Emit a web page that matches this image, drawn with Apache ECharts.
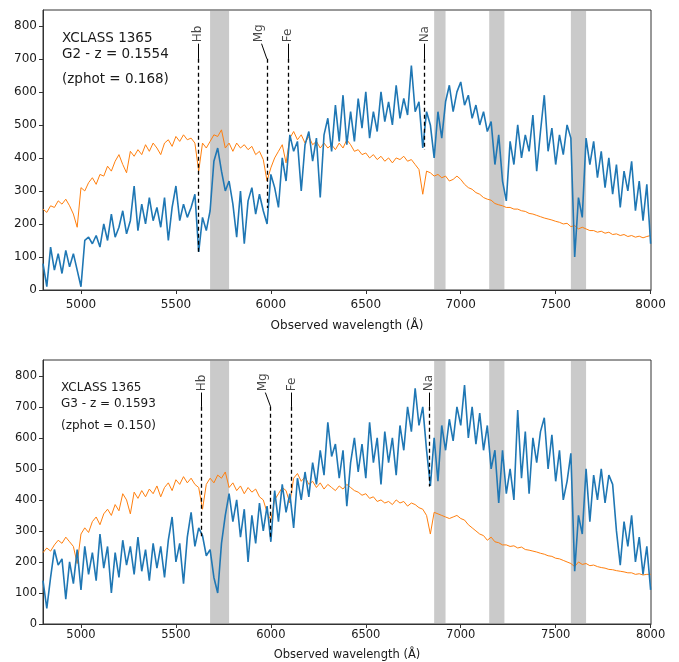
<!DOCTYPE html>
<html>
<head>
<meta charset="utf-8">
<script src="https://cdn.jsdelivr.net/npm/echarts@6/dist/echarts.min.js"></script>
<style>
  html, body { margin: 0; padding: 0; background: #fff; }
  #spec-chart { width: 679px; height: 662px; }
</style>
</head>
<body>
<div id="spec-chart"></div>
<script>
// wavelength grid of the sampled spectra (Angstrom)
var wlStart = 4800;
var wlStep = 20;

// G2 (top panel): observed flux and template
var g2Flux = [
  80, 10, 130, 60, 110, 50, 120, 70, 110, 60,
  10, 150, 160, 140, 165, 130, 200, 150, 230, 160,
  190, 240, 170, 210, 315, 180, 260, 200, 280, 210,
  250, 190, 280, 150, 250, 315, 210, 260, 220, 250,
  290, 115, 220, 180, 240, 390, 430, 360, 300, 330,
  260, 160, 300, 140, 270, 310, 230, 290, 240, 200,
  350, 310, 250, 400, 330, 470, 420, 450, 300, 440,
  480, 390, 460, 280, 470, 520, 420, 560, 450, 590,
  440, 540, 450, 580, 490, 600, 460, 540, 480, 600,
  510, 570, 500, 620, 520, 580, 530, 680, 540, 570,
  430, 540, 500, 400, 540, 460, 570, 620, 540, 600,
  630, 560, 590, 520, 560, 500, 540, 480, 510, 380,
  470, 330, 270, 450, 380, 500, 400, 470, 420, 530,
  360, 480, 590, 420, 490, 380, 470, 410, 500, 460,
  100, 280, 220, 460, 380, 450, 340, 420, 310, 400,
  290, 380, 250, 360, 300, 390, 240, 330, 210, 320,
  140
];
var g2Model = [
  245, 235, 255, 250, 270, 260, 275, 255, 230, 190,
  310, 300, 325, 340, 320, 350, 345, 375, 360, 390,
  410, 380, 355, 420, 405, 425, 410, 440, 420, 445,
  430, 410, 445, 455, 435, 465, 450, 470, 455, 460,
  445, 360, 445, 430, 450, 470, 465, 485, 430, 445,
  420, 445, 430, 440, 425, 435, 410, 420, 395, 330,
  370, 400, 420, 440, 385, 460, 480, 455, 470, 445,
  465, 440, 450, 430, 445, 430, 440, 425, 445, 430,
  455, 440, 420, 425, 410, 415, 400, 410, 395, 405,
  390, 400, 385, 400, 395, 405, 390, 395, 380, 365,
  290, 360, 355, 345, 350, 340, 345, 330, 335, 345,
  335, 320, 310, 305, 295, 290, 280, 275, 272, 262,
  258, 255, 250, 250, 245, 245, 240, 238, 232, 230,
  226, 222, 218, 215, 212, 208, 205, 200, 202, 192,
  195, 185, 190, 185, 180, 180, 175, 178, 172, 175,
  168, 170, 165, 168, 162, 165, 160, 163, 158, 162,
  165
];

// G3 (bottom panel): observed flux and template
var g3Flux = [
  140, 50, 150, 240, 190, 210, 80, 200, 130, 240,
  110, 250, 160, 230, 140, 290, 180, 250, 100, 230,
  150, 270, 190, 250, 160, 280, 170, 240, 140, 260,
  180, 250, 150, 270, 345, 200, 260, 130, 280, 360,
  250, 310, 285, 220, 240, 150, 100, 260, 350, 420,
  330, 400, 280, 370, 200, 350, 260, 390, 300, 380,
  265, 430, 330, 450, 360, 420, 310, 470, 400, 490,
  410, 520, 450, 560, 480, 650, 540, 580, 470, 560,
  380, 520, 600, 490, 580, 470, 650, 520, 600, 450,
  620, 520, 600, 480, 640, 560, 700, 620, 760, 640,
  700, 560, 445, 600, 460, 640, 560, 660, 590, 700,
  640, 770, 600, 700, 580, 680, 560, 640, 500, 560,
  390, 560, 420, 500, 400, 690, 470, 620, 420, 600,
  520, 620, 665, 500, 610, 460, 560, 400, 460, 550,
  170, 350, 290, 500, 330, 480, 400, 500, 390, 480,
  450, 300, 190, 330, 250, 350, 200, 280, 160, 250,
  110
];
var g3Model = [
  230, 245, 235, 255, 270, 260, 280, 265, 250, 195,
  290, 310, 295, 330, 345, 320, 355, 370, 350, 385,
  365, 420, 400, 355, 425, 405, 430, 410, 435, 420,
  445, 410, 440, 455, 430, 465, 450, 475, 455, 470,
  450, 440, 370, 450, 470, 455, 480, 470, 490, 440,
  455, 430, 445, 420, 440, 425, 435, 410, 400, 360,
  335, 400, 420, 440, 430, 390, 470, 485, 460, 475,
  450, 460, 440, 455, 435, 450, 440, 430, 445, 435,
  450, 440, 430, 425, 415, 420, 405, 410, 395, 400,
  390, 395, 385, 400, 390, 395, 380, 390, 385, 375,
  370, 350, 290, 360, 355, 350, 345, 340, 345, 350,
  340, 335, 320, 310, 300, 290, 285, 270, 280, 265,
  262, 255, 255, 250, 252, 245, 248, 240, 238, 235,
  232, 228, 225, 220, 218, 212, 210, 205, 200, 195,
  185, 200, 192, 195, 188, 190, 185, 182, 180, 176,
  175, 172, 170, 168, 165, 165, 160, 162, 158, 160,
  160
];

// telluric bands (shaded)
var bandStart = [5680, 6860, 7150, 7580];
var bandEnd = [5780, 6920, 7230, 7660];

// absorption line markers
var lineNames = ["Hb", "Mg", "Fe", "Na"];
var g2LineWl = [5616, 5979, 6089, 6809];
var g2LineEnd = [113, 248, 479, 424];
var g3LineWl = [5635, 5999, 6109, 6832];
var g3LineEnd = [283, 272, 422, 443];
var labelShift = [0, -40, 0, 0];
var lineTop = 700;
var labelBase = 750;

var yTicks = [0, 100, 200, 300, 400, 500, 600, 700, 800];
var xTicks = [5000, 5500, 6000, 6500, 7000, 7500, 8000];

var FONT = "DejaVu Sans";
var TXT = "#1a1a1a";

function toPairs(arr) {
  return arr.map(function (v, i) { return [wlStart + i * wlStep, v]; });
}

function panelSeries(idx, flux, model, lineWl, lineEnd) {
  var bands = bandStart.map(function (s, i) {
    return [{ xAxis: s }, { xAxis: bandEnd[i] }];
  });
  var dashed = lineWl.map(function (w, i) {
    return { coords: [[w, lineTop], [w, lineEnd[i]]] };
  });
  var solid = lineWl.map(function (w, i) {
    var t = w + labelShift[i] + (labelShift[i] ? 12 : 0);
    return { coords: [[t, labelBase - 4], [w, lineTop]] };
  });
  var labels = lineWl.map(function (w, i) {
    return { name: lineNames[i], value: [w + labelShift[i], labelBase] };
  });
  return [
    {
      type: "line", xAxisIndex: idx, yAxisIndex: idx, data: [], z: 1,
      markArea: { silent: true, itemStyle: { color: "rgba(150,150,150,0.5)" }, data: bands }
    },
    {
      type: "line", xAxisIndex: idx, yAxisIndex: idx, data: toPairs(model),
      showSymbol: false, z: 3, lineStyle: { color: "#ff7f0e", width: 1 }
    },
    {
      type: "line", xAxisIndex: idx, yAxisIndex: idx, data: toPairs(flux),
      showSymbol: false, z: 4, lineStyle: { color: "#1f77b4", width: 1.6 }
    },
    {
      type: "lines", coordinateSystem: "cartesian2d", xAxisIndex: idx, yAxisIndex: idx,
      data: dashed, z: 5, lineStyle: { color: "#000", width: 1.3, type: [4, 3], opacity: 1 }
    },
    {
      type: "lines", coordinateSystem: "cartesian2d", xAxisIndex: idx, yAxisIndex: idx,
      data: solid, z: 5, lineStyle: { color: "#000", width: 1, opacity: 1 }
    },
    {
      type: "scatter", xAxisIndex: idx, yAxisIndex: idx, data: labels, symbolSize: 0, z: 6,
      label: {
        show: true, formatter: "{b}", position: "top", distance: 0, rotate: 90,
        align: "left", verticalAlign: "middle",
        fontFamily: FONT, fontSize: 12, color: TXT
      }
    }
  ];
}

function xAxisCfg(idx, gap, fs, margin) {
  return {
    type: "value", gridIndex: idx, min: 4800, max: 8002,
    name: "Observed wavelength (Å)", nameLocation: "middle", nameGap: gap,
    nameTextStyle: { fontFamily: FONT, fontSize: fs, color: TXT },
    axisLine: { show: true, lineStyle: { color: "#333" } },
    axisTick: { show: true, length: 4, customValues: xTicks, lineStyle: { color: "#333" } },
    axisLabel: {
      customValues: xTicks, margin: margin, fontFamily: FONT, fontSize: fs, color: TXT,
      formatter: function (v) { return String(v); }
    },
    splitLine: { show: false }
  };
}

function yAxisCfg(idx, max, fs) {
  return {
    type: "value", gridIndex: idx, min: 0, max: max,
    axisLine: { show: true, lineStyle: { color: "#333" } },
    axisTick: { show: true, length: 4, customValues: yTicks, lineStyle: { color: "#333" } },
    axisLabel: { customValues: yTicks, margin: 6, fontFamily: FONT, fontSize: fs, color: TXT },
    splitLine: { show: false }
  };
}

var chart = echarts.init(document.getElementById("spec-chart"));
var option = {
  animation: false,
  backgroundColor: "#fff",
  grid: [
    { left: 43, top: 10, width: 608, height: 280, show: true, borderColor: "#333", borderWidth: 1 },
    { left: 43, top: 360, width: 608, height: 265, show: true, borderColor: "#333", borderWidth: 1 }
  ],
  xAxis: [xAxisCfg(0, 30, 12, 9), xAxisCfg(1, 25, 11.5, 5)],
  yAxis: [yAxisCfg(0, 848, 12), yAxisCfg(1, 851, 11.5)],
  series: [].concat(
    panelSeries(0, g2Flux, g2Model, g2LineWl, g2LineEnd),
    panelSeries(1, g3Flux, g3Model, g3LineWl, g3LineEnd)
  ),
  graphic: [
    { type: "text", left: 62, top: 30, style: { text: "XCLASS 1365\nG2 - z = 0.1554", font: "13.5px " + FONT, fill: TXT, lineHeight: 16 } },
    { type: "text", left: 62, top: 72, style: { text: "(zphot = 0.168)", font: "13.5px " + FONT, fill: TXT } },
    { type: "text", left: 61, top: 380, style: { text: "XCLASS 1365\nG3 - z = 0.1593", font: "12px " + FONT, fill: TXT, lineHeight: 16 } },
    { type: "text", left: 61, top: 420, style: { text: "(zphot = 0.150)", font: "12px " + FONT, fill: TXT } }
  ]
};
chart.setOption(option);
</script>
</body>
</html>
